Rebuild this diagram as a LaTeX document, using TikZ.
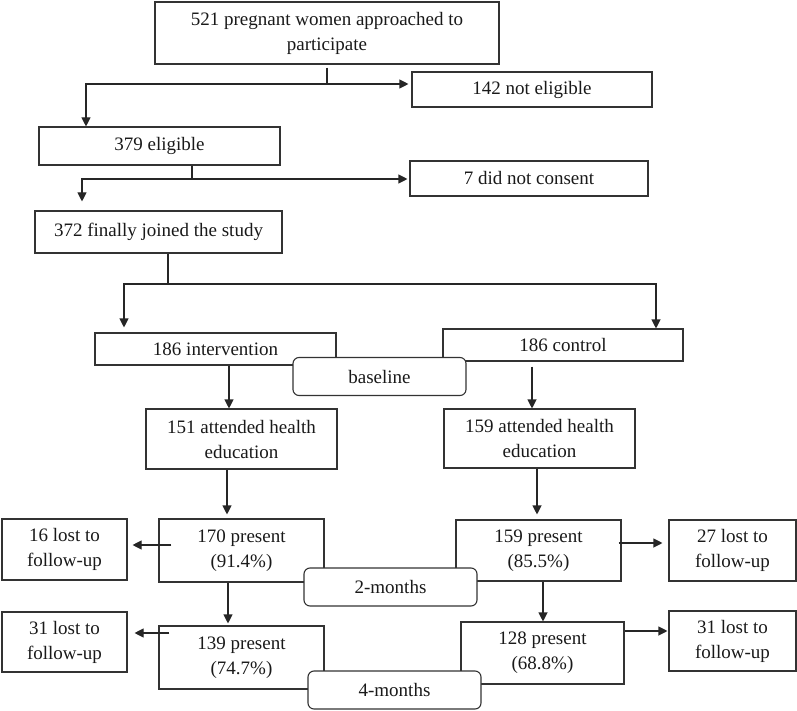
\documentclass[tikz,border=0pt]{standalone}
\usepackage{fontspec}
\setmainfont{Liberation Serif}
\usetikzlibrary{arrows.meta}

\begin{document}
\begin{tikzpicture}[x=1pt,y=-1pt,
	box/.style={draw=black!80, line width=1.1pt, align=center, inner sep=0pt, text=black!90, font=\fontsize{19}{25}\selectfont},
	stage/.style={box, fill=white, rounded corners=6pt, minimum width=173pt, minimum height=38pt},
	link/.style={draw=black!85, line width=1.1pt},
	arr/.style={link, -{Triangle[length=9pt,width=9pt]}}]
			%%%%% START %%%%%
			\useasboundingbox (0,0) rectangle (797,711);
			
			\node[box, minimum width=344pt, minimum height=62pt] (approached) at (327,33) {521 pregnant women approached to\\participate};
			\node[box, minimum width=240pt, minimum height=35pt] (noteligible) at (532,89.5) {142 not eligible};
			\node[box, minimum width=241pt, minimum height=38pt] (eligible) at (159.5,146) {379 eligible};
			\node[box, minimum width=238pt, minimum height=35pt] (noconsent) at (529,178.5) {7 did not consent};
			\node[box, minimum width=247pt, minimum height=42pt] (joined) at (158.5,232) {372 finally joined the study};
			
			\node[box, minimum width=241pt, minimum height=32pt] (interv) at (215.5,349) {186 intervention};
			\node[box, minimum width=240pt, minimum height=32pt] (control) at (563,345) {186 control};
			
			\node[box, minimum width=191pt, minimum height=60pt] (att151) at (241.5,439) {151 attended health\\education};
			\node[box, minimum width=191pt, minimum height=59pt] (att159) at (539.5,438.5) {159 attended health\\education};
			
			\node[box, minimum width=165pt, minimum height=63pt] (pres170) at (241.5,550.5) {170 present\\(91.4\%)};
			\node[box, minimum width=125pt, minimum height=61pt] (lost16) at (64.5,549.5) {16 lost to\\follow-up};
			\node[box, minimum width=165pt, minimum height=61pt] (pres159) at (538.5,550.5) {159 present\\(85.5\%)};
			\node[box, minimum width=127pt, minimum height=61pt] (lost27) at (732.5,550.5) {27 lost to\\follow-up};
			
			\node[box, minimum width=165pt, minimum height=63pt] (pres139) at (241.5,657.5) {139 present\\(74.7\%)};
			\node[box, minimum width=125pt, minimum height=60pt] (lost31a) at (64.5,642) {31 lost to\\follow-up};
			\node[box, minimum width=163pt, minimum height=62pt] (pres128) at (542.5,653) {128 present\\(68.8\%)};
			\node[box, minimum width=127pt, minimum height=60pt] (lost31b) at (732.5,641) {31 lost to\\follow-up};
			
			% screening
			\coordinate (split1) at (327,84);
			\coordinate (split1l) at (86,84);
			\draw[link] ([yshift=-3pt]approached.south) -- (split1);
			\draw[arr] (split1) -- (split1l) -- (split1l |- eligible.north);
			\draw[arr, shorten >=3pt] (split1) -- (split1 -| noteligible.west);
			
			\coordinate (split2) at (192,179);
			\coordinate (split2l) at (82,179);
			\draw[link] (split2 |- eligible.south) -- (split2);
			\draw[arr, shorten >=9pt] (split2) -- (split2l) -- (split2l |- joined.north);
			\draw[arr, shorten >=2pt] (split2) -- (split2 -| noconsent.west);
			
			% allocation
			\coordinate (split3) at (168,284);
			\coordinate (split3l) at (124,284);
			\coordinate (split3r) at (656,284);
			\draw[link] (split3 |- joined.south) -- (split3);
			\draw[arr, shorten >=5pt] (split3) -- (split3l) -- (split3l |- interv.north);
			\draw[arr] (split3) -- (split3r) -- (split3r |- control.north);
			
			\draw[arr] ([xshift=-12.5pt]att151.north |- interv.south) -- ([xshift=-12.5pt]att151.north);
			\draw[arr, shorten <=5pt] ([xshift=-7.5pt]att159.north |- control.south) -- ([xshift=-7.5pt]att159.north);
			
			% follow-up
			\draw[arr, shorten >=4pt] ([xshift=-14.5pt]pres170.north |- att151.south) -- ([xshift=-14.5pt]pres170.north);
			\draw[arr, shorten >=5pt] ([xshift=-1.5pt]pres159.north |- att159.south) -- ([xshift=-1.5pt]pres159.north);
			\draw[arr, shorten <=-13pt, shorten >=5pt] ([yshift=5.5pt]pres170.west) -- ([yshift=5.5pt]pres170.west -| lost16.east);
			\draw[arr, shorten <=-3pt, shorten >=6pt] ([yshift=7.5pt]pres159.east) -- ([yshift=7.5pt]pres159.east -| lost27.west);
			
			\draw[arr, shorten >=2pt] ([xshift=-13.5pt]pres139.north |- pres170.south) -- ([xshift=-13.5pt]pres139.north);
			\draw[arr] ([xshift=0.5pt]pres128.north |- pres159.south) -- ([xshift=0.5pt]pres128.north);
			\draw[arr, shorten <=-11pt, shorten >=7pt] ([yshift=24.5pt]pres139.west) -- ([yshift=24.5pt]pres139.west -| lost31a.east);
			\draw[arr, shorten >=1pt] ([yshift=22pt]pres128.east) -- ([yshift=22pt]pres128.east -| lost31b.west);
			
			% time points
			\node[stage] (baseline) at (379.5,376.5) {baseline};
			\node[stage] (months2) at (390.5,587) {2-months};
			\node[stage] (months4) at (394.5,690) {4-months};
			
			%%%%% END %%%%%
\end{tikzpicture}
\end{document}
